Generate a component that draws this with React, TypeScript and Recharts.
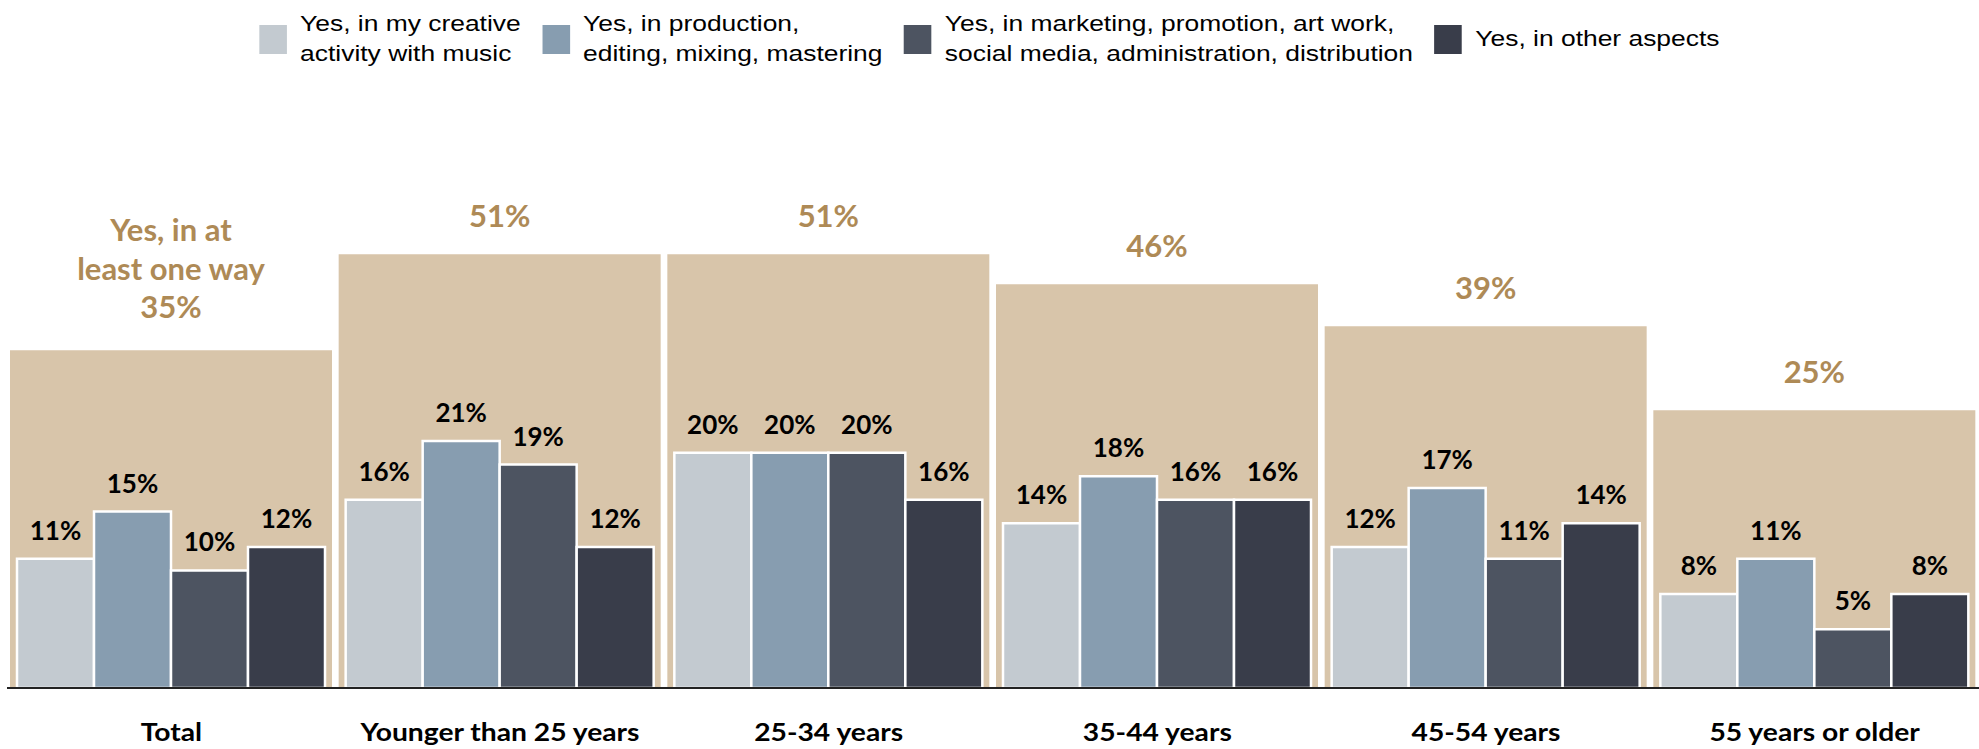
import { Bar, ComposedChart, LabelList, Legend, XAxis, YAxis } from "recharts"

const categories = [
  "Total",
  "Younger than 25 years",
  "25-34 years",
  "35-44 years",
  "45-54 years",
  "55 years or older",
]

const atLeastOneWay = [35, 51, 51, 46, 39, 25]
const creative = [11, 16, 20, 14, 12, 8]
const production = [15, 21, 20, 18, 17, 11]
const marketing = [10, 19, 20, 16, 11, 5]
const otherAspects = [12, 12, 16, 16, 14, 8]

const seriesNames = [
  "Yes, in my creative\nactivity with music",
  "Yes, in production,\nediting, mixing, mastering",
  "Yes, in marketing, promotion, art work,\nsocial media, administration, distribution",
  "Yes, in other aspects",
]

const totalHeadline = ["Yes, in at", "least one way"]

const data = categories.map((name, i) => ({
  name,
  atLeast: atLeastOneWay[i],
  creative: creative[i],
  production: production[i],
  marketing: marketing[i],
  other: otherAspects[i],
}))

// the background bars sit on their own axis, which starts below zero
const BG_MIN = -21.3
const LABEL_FONT = "Lato, 'Open Sans', sans-serif"

const renderLegend = (props: any) => {
  const items = (props.payload || [])
    .filter((p: any) => p.type !== "none")
    .sort((a: any, b: any) => seriesNames.indexOf(a.value) - seriesNames.indexOf(b.value))
  return (
    <div style={{ height: 70, paddingTop: 8, boxSizing: "border-box", display: "flex", justifyContent: "center" }}>
      <div
        style={{
          display: "flex",
          alignItems: "center",
          gap: 18,
          transform: "scaleX(1.2)",
          transformOrigin: "center",
          fontFamily: "'Liberation Sans', Arial, sans-serif",
          fontSize: 22,
          lineHeight: "30px",
          color: "#000",
        }}
      >
        {items.map((p: any) => (
          <div key={p.value} style={{ display: "flex", alignItems: "center", gap: 11 }}>
            <span style={{ width: 23, height: 29, background: p.color, display: "inline-block" }} />
            <span style={{ whiteSpace: "pre-line", textAlign: "left" }}>{p.value}</span>
          </div>
        ))}
      </div>
    </div>
  )
}

const renderTick = (props: any) => {
  const { x, y, payload } = props
  return (
    <text
      transform={`translate(${x},${y}) scale(1.13,1)`}
      textAnchor="middle"
      dy="0.71em"
      fill="#000"
      fontSize={25}
      fontWeight={700}
      fontFamily={LABEL_FONT}
    >
      {payload.value}
    </text>
  )
}

const renderBgLabel = (props: any) => {
  const { x, y, width, value, index } = props
  const cx = x + width / 2
  const lines = index === 0 ? [...totalHeadline, `${value}%`] : [`${value}%`]
  const base = index === 0 ? 32 : 27
  return (
    <g>
      {lines.map((t, k) => (
        <text
          key={k}
          x={cx}
          y={y - base - (lines.length - 1 - k) * 38.5}
          textAnchor="middle"
          fill="#AE8A56"
          fontSize={31}
          fontWeight={700}
          fontFamily={LABEL_FONT}
        >
          {t}
        </text>
      ))}
    </g>
  )
}

const barLabel = {
  position: "top" as const,
  offset: 19,
  fill: "#000",
  fontSize: 26,
  fontWeight: 700,
  fontFamily: LABEL_FONT,
  formatter: (v: any) => `${v}%`,
}

export default function App() {
  return (
    <div style={{ position: "absolute", left: 0, top: 0, width: 1979, height: 749, background: "#fff" }}>
      <ComposedChart
        width={1979}
        height={749}
        data={data}
        margin={{ top: 30, right: 0, left: 7, bottom: 0 }}
        barGap={0}
      >
        <XAxis
          dataKey="name"
          axisLine={{ stroke: "#222", strokeWidth: 2 }}
          tickLine={false}
          tickMargin={29}
          height={61}
          interval={0}
          tick={renderTick}
        />
        <XAxis xAxisId="bg" dataKey="name" hide />
        <YAxis hide domain={[0, 50]} />
        <YAxis yAxisId="bg" hide domain={[BG_MIN, 76.7]} />
        <Legend verticalAlign="top" content={renderLegend} wrapperStyle={{ top: 0, left: 0, width: 1979 }} />
        <Bar
          xAxisId="bg"
          yAxisId="bg"
          dataKey={(d: any) => [BG_MIN, d.atLeast]}
          fill="#D8C5AA"
          barSize={322}
          legendType="none"
          isAnimationActive={false}
        >
          <LabelList dataKey="atLeast" content={renderBgLabel} />
        </Bar>
        <Bar dataKey="creative" name={seriesNames[0]} fill="#C3CAD0" stroke="#fff" strokeWidth={2.5} barSize={77} isAnimationActive={false}>
          <LabelList dataKey="creative" {...barLabel} />
        </Bar>
        <Bar dataKey="production" name={seriesNames[1]} fill="#879DB0" stroke="#fff" strokeWidth={2.5} barSize={77} isAnimationActive={false}>
          <LabelList dataKey="production" {...barLabel} />
        </Bar>
        <Bar dataKey="marketing" name={seriesNames[2]} fill="#4D5461" stroke="#fff" strokeWidth={2.5} barSize={77} isAnimationActive={false}>
          <LabelList dataKey="marketing" {...barLabel} />
        </Bar>
        <Bar dataKey="other" name={seriesNames[3]} fill="#393D4A" stroke="#fff" strokeWidth={2.5} barSize={77} isAnimationActive={false}>
          <LabelList dataKey="other" {...barLabel} />
        </Bar>
      </ComposedChart>
    </div>
  )
}
